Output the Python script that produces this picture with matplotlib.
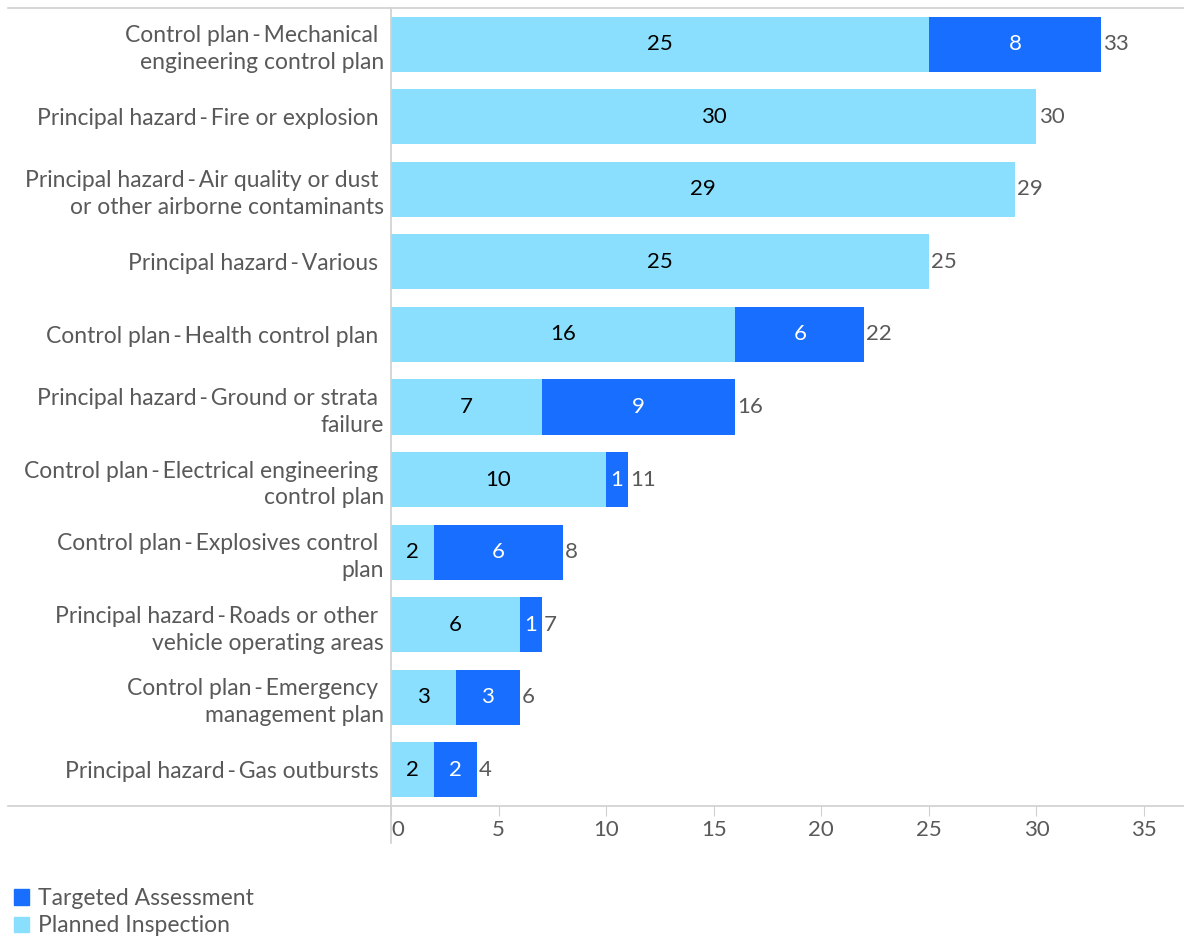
import matplotlib.pyplot as plt
from matplotlib.lines import Line2D
from matplotlib.patches import Patch

S = "\u2009-\u2009"
categorias = [
    f"Control plan{S}Mechanical \nengineering control plan",
    f"Principal hazard{S}Fire or explosion ",
    f"Principal hazard{S}Air quality or dust \nor other airborne contaminants",
    f"Principal hazard{S}Various ",
    f"Control plan{S}Health control plan ",
    f"Principal hazard{S}Ground or strata \nfailure",
    f"Control plan{S}Electrical engineering \ncontrol plan",
    f"Control plan{S}Explosives control \nplan",
    f"Principal hazard{S}Roads or other \nvehicle operating areas",
    f"Control plan{S}Emergency \nmanagement plan",
    f"Principal hazard{S}Gas outbursts ",
]
planificadas = [25, 30, 29, 25, 16, 7, 10, 2, 6, 3, 2]
dirigidas = [8, 0, 0, 0, 6, 9, 1, 6, 1, 3, 2]
ticks_x = [0, 5, 10, 15, 20, 25, 30, 35]

COLOR_PLAN = "#8ADFFF"
COLOR_DIR = "#176EFF"
GRIS = "#595959"
FUENTE = "Lato"
TAM = 16

plt.rcParams["font.family"] = [FUENTE, "DejaVu Sans"]

fig = plt.figure(figsize=(11.84, 9.4), dpi=100)
ax = fig.add_axes([391 / 1184, 1 - 806 / 940, 1 - 391 / 1184, (806 - 8) / 940])

pos = list(range(len(categorias)))
alto = 0.76
ax.barh(pos, planificadas, height=alto, color=COLOR_PLAN)
ax.barh(pos, dirigidas, left=planificadas, height=alto, color=COLOR_DIR)

for i, (p, d) in enumerate(zip(planificadas, dirigidas)):
    if p:
        ax.text(p / 2, i, str(p), ha="center", va="center", fontsize=TAM, color="black")
    if d:
        ax.text(p + d / 2, i, str(d), ha="center", va="center", fontsize=TAM, color="white")
    ax.text(p + d + 0.1, i, str(p + d), ha="left", va="center", fontsize=TAM, color=GRIS)

ax.set_ylim(len(categorias) - 0.5, -0.5)
ax.set_xlim(0, (1184 - 391) / ((1144 - 391) / 35))
ax.set_yticks(pos)
ax.set_yticklabels(categorias, fontsize=16.5, color=GRIS, linespacing=1.35)
ax.tick_params(axis="y", length=0, pad=5)
ax.set_xticks(ticks_x)
ax.set_xticklabels([str(t) for t in ticks_x], fontsize=TAM, color=GRIS)
ax.tick_params(axis="x", length=7, color="#d0d0d0", pad=3)
ax.get_xticklabels()[0].set_horizontalalignment("left")
for lado in ["top", "right", "bottom", "left"]:
    ax.spines[lado].set_visible(False)

# lineas de referencia que salen del area de ejes
linea = dict(color="#d0d0d0", lw=1.2, transform=fig.transFigure)
fig.add_artist(Line2D([8 / 1184, 1], [1 - 8 / 940] * 2, **linea))
fig.add_artist(Line2D([8 / 1184, 1], [1 - 806 / 940] * 2, **linea))
fig.add_artist(Line2D([391 / 1184] * 2, [1 - 8 / 940, 1 - 843 / 940], **linea))

leyenda = [
    Patch(color=COLOR_DIR, label="Targeted Assessment"),
    Patch(color=COLOR_PLAN, label="Planned Inspection"),
]
fig.legend(handles=leyenda, loc="lower left", bbox_to_anchor=(0.004, -0.006),
           frameon=False, fontsize=16.5, labelcolor=GRIS, handlelength=0.68,
           handleheight=0.68, handletextpad=0.35, labelspacing=0.28,
           borderaxespad=0.0, borderpad=0.4)

fig.savefig("out.png", dpi=100)
